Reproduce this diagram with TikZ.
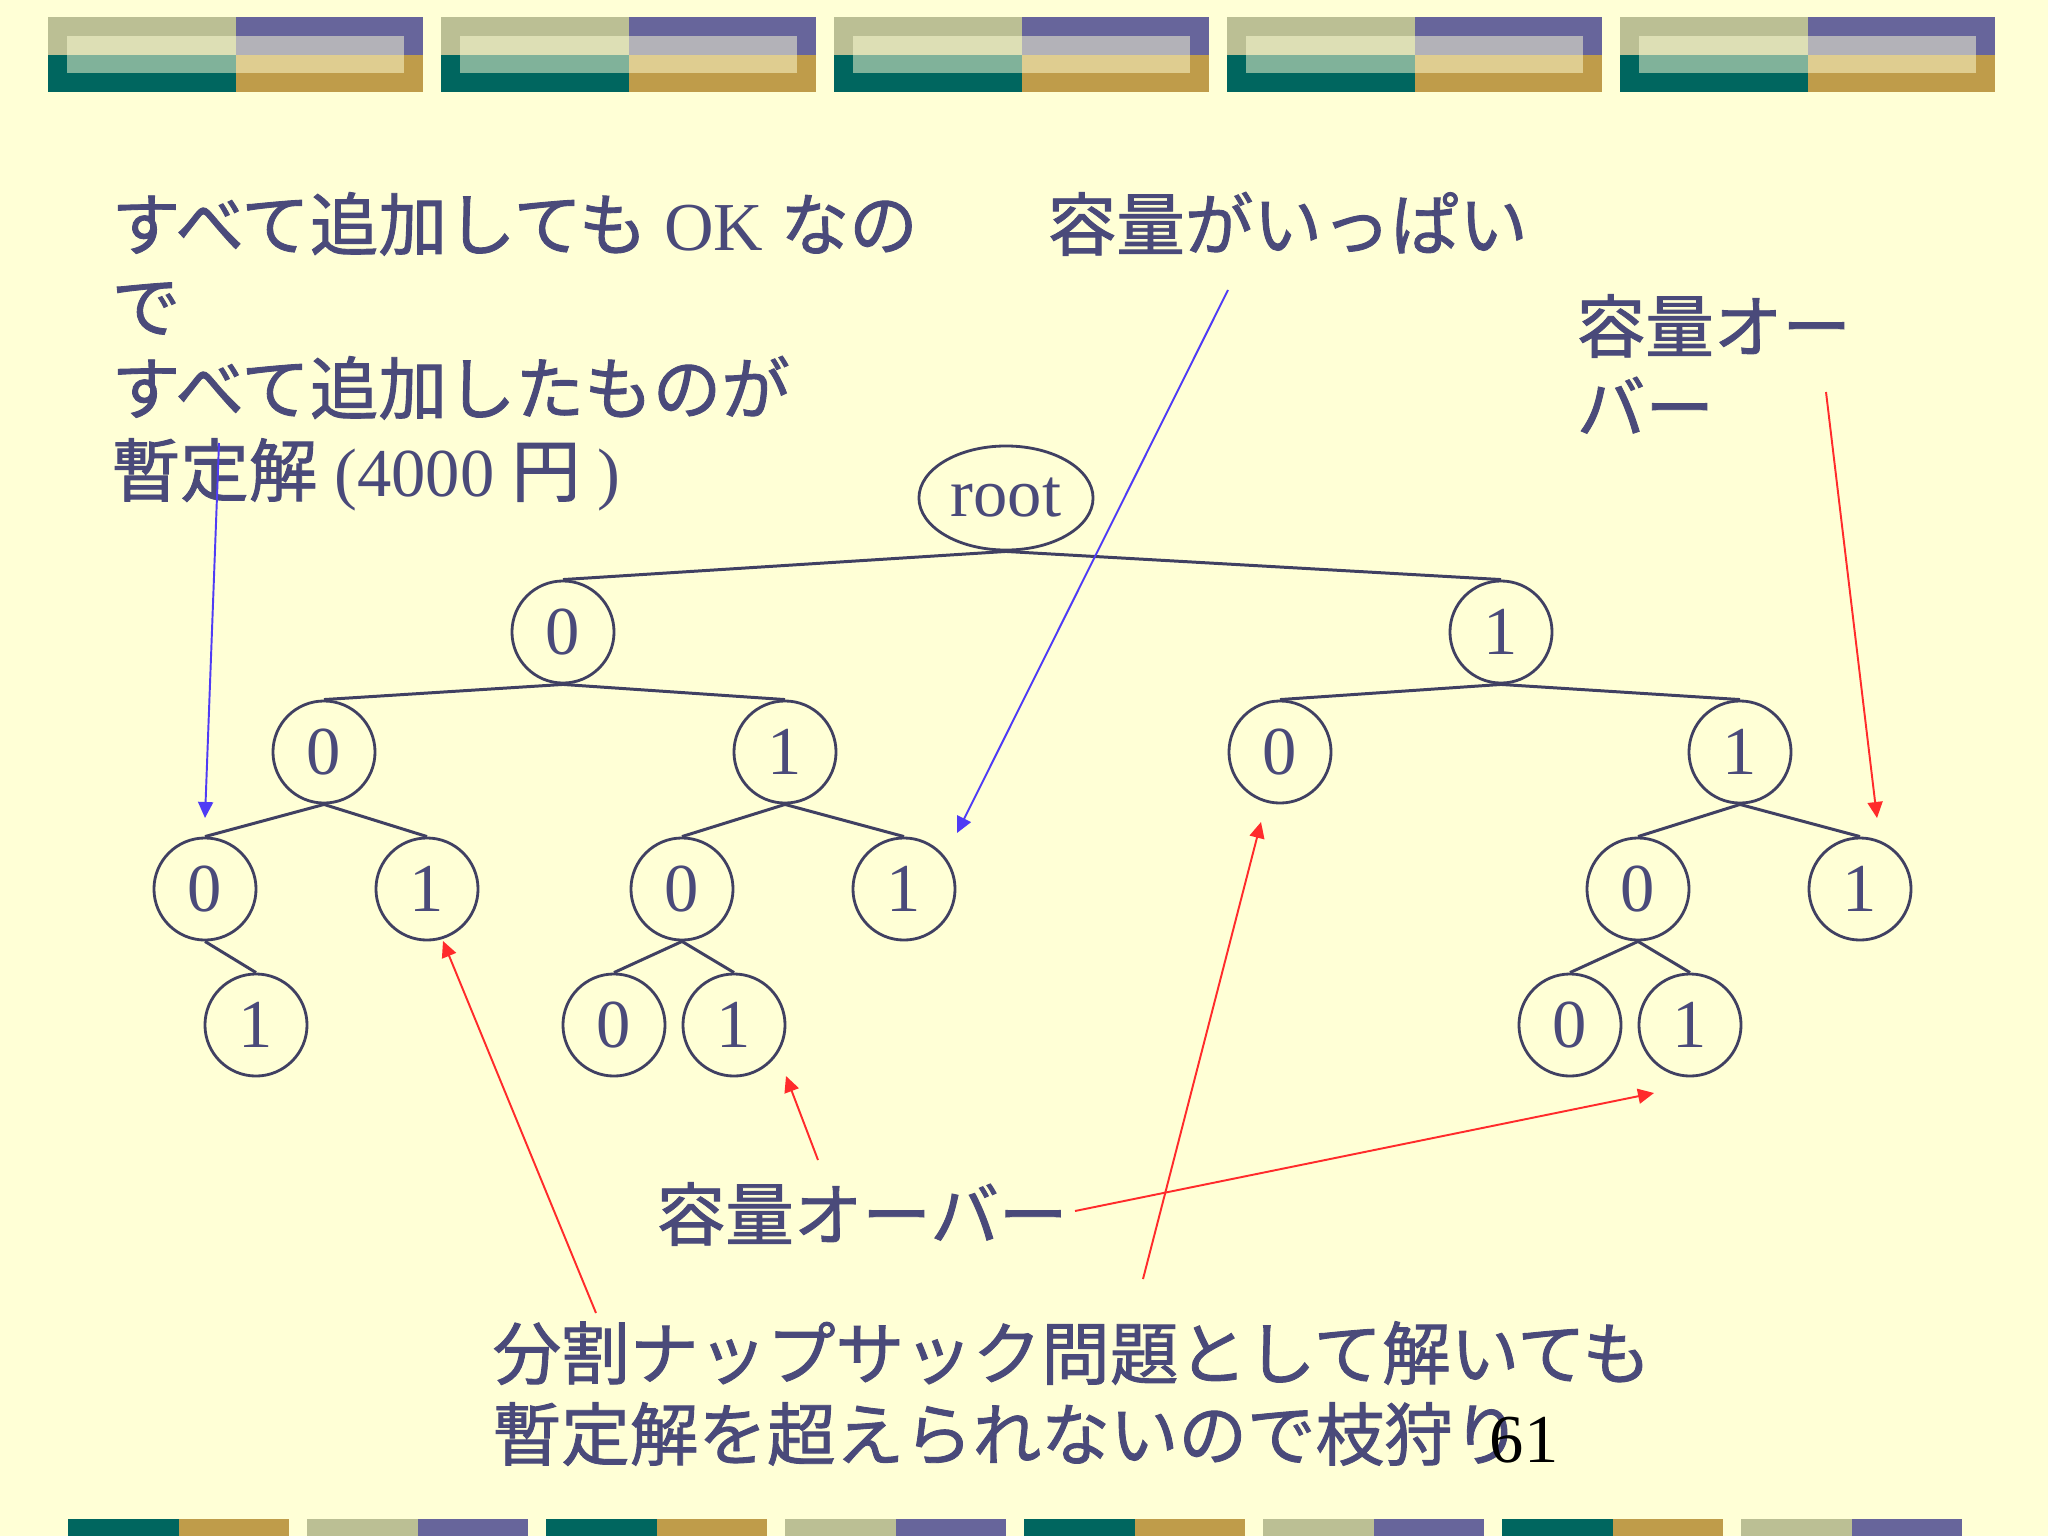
\documentclass[tikz,border=0pt]{standalone}
\usepackage{fontspec}
\setmainfont{Liberation Serif}
\newfontfamily\jp[FakeBold=1.3]{Noto Sans CJK JP}
\usetikzlibrary{shapes.geometric,arrows.meta}
\definecolor{bg}{HTML}{FFFFD6}
\definecolor{olv}{HTML}{BBBF94}
\definecolor{prp}{HTML}{67659B}
\definecolor{tel}{HTML}{00665F}
\definecolor{gld}{HTML}{BF9C4A}
\definecolor{txt}{HTML}{4A4A7A}
\definecolor{edg}{HTML}{404062}
\definecolor{arrblue}{HTML}{4F3BF5}
\definecolor{arrred}{HTML}{FF2B2B}
\tikzset{
  nd/.style={circle,draw=edg,line width=0.8pt,minimum size=1.02cm,inner sep=0pt,
             text=txt,font=\fontsize{19.5}{23}\selectfont},
  rootnd/.style={ellipse,draw=edg,line width=0.8pt,minimum width=1.74cm,minimum height=1.04cm,
             inner sep=0pt,text=txt,font=\fontsize{19.5}{23}\selectfont},
  edge/.style={draw=edg,line width=0.85pt},
  lbl/.style={anchor=base west,inner sep=0pt,text=txt,font=\fontsize{19.5}{23}\selectfont},
  bluearr/.style={draw=arrblue,line width=0.55pt,-{Triangle[length=0.16cm,width=0.15cm]}},
  redarr/.style={draw=arrred,line width=0.55pt,-{Triangle[length=0.16cm,width=0.15cm]}},
}
\begin{document}
\begin{tikzpicture}[x=0.01cm,y=-0.01cm]
\fill[bg] (0,0) rectangle (2048,1536);
\useasboundingbox (0,0) rectangle (2048,1536);
% top band
\foreach \i in {0,...,4}{
  \pgfmathsetmacro\bx{48+393*\i}
  \begin{scope}[shift={(\bx,17)}]
    \fill[olv] (0,0) rectangle (187.5,37.5);
    \fill[prp] (187.5,0) rectangle (375,37.5);
    \fill[tel] (0,37.5) rectangle (187.5,75);
    \fill[gld] (187.5,37.5) rectangle (375,75);
    \fill[bg,fill opacity=0.5] (19,19) rectangle (356,56);
  \end{scope}
}
% bottom band
\foreach \i in {0,...,7}{
  \pgfmathsetmacro\bx{68+239*\i}
  \begin{scope}[shift={(\bx,1519)}]
    \ifodd\i
      \fill[olv] (0,0) rectangle (110.5,20);
      \fill[prp] (110.5,0) rectangle (221,20);
    \else
      \fill[tel] (0,0) rectangle (110.5,20);
      \fill[gld] (110.5,0) rectangle (221,20);
    \fi
  \end{scope}
}
% tree nodes
\node[rootnd] (r) at (1006,498) {root};
\node[nd] (a) at (563,632) {0};
\node[nd] (b) at (1501,632) {1};
\node[nd] (aa) at (324,752) {0};
\node[nd] (ab) at (785,752) {1};
\node[nd] (ba) at (1280,752) {0};
\node[nd] (bb) at (1740,752) {1};
\node[nd] (aaa) at (205,889) {0};
\node[nd] (aab) at (427,889) {1};
\node[nd] (aba) at (682,889) {0};
\node[nd] (abb) at (904,889) {1};
\node[nd] (bba) at (1638,889) {0};
\node[nd] (bbb) at (1860,889) {1};
\node[nd] (aaab) at (256,1025) {1};
\node[nd] (abaa) at (614,1025) {0};
\node[nd] (abab) at (734,1025) {1};
\node[nd] (bbaa) at (1570,1025) {0};
\node[nd] (bbab) at (1690,1025) {1};
% tree edges
\draw[edge] (r.south) -- (a.north);
\draw[edge] (r.south) -- (b.north);
\draw[edge] (a.south) -- (aa.north);
\draw[edge] (a.south) -- (ab.north);
\draw[edge] (b.south) -- (ba.north);
\draw[edge] (b.south) -- (bb.north);
\draw[edge] (aa.south) -- (aaa.north);
\draw[edge] (aa.south) -- (aab.north);
\draw[edge] (ab.south) -- (aba.north);
\draw[edge] (ab.south) -- (abb.north);
\draw[edge] (bb.south) -- (bba.north);
\draw[edge] (bb.south) -- (bbb.north);
\draw[edge] (aaa.south) -- (aaab.north);
\draw[edge] (aba.south) -- (abaa.north);
\draw[edge] (aba.south) -- (abab.north);
\draw[edge] (bba.south) -- (bbaa.north);
\draw[edge] (bba.south) -- (bbab.north);
% labels
\node[lbl] (t1) at (111,250) {{\jp すべて追加しても} OK {\jp なの}};
\node[lbl] (t2) at (111,332) {\jp で};
\node[lbl] (t3) at (111,414) {\jp すべて追加したものが};
\node[lbl] (t4) at (111,496) {{\jp 暫定解} (4000 {\jp 円} )};
\node[lbl] (t5) at (1047,250) {\jp 容量がいっぱい};
\node[lbl] (t6) at (1576,352) {\jp 容量オー};
\node[lbl] (t7) at (1576,433) {\jp バー};
\node[lbl] (t8) at (656,1240) {\jp 容量オーバー};
\node[lbl] (t9) at (492,1379) {\jp 分割ナップサック問題として解いても};
\node[lbl] (t10) at (492,1460) {\jp 暫定解を超えられないので枝狩り};
\node[lbl,text=black] (pg) at (1489,1462) {61};
% arrows
\coordinate (s1) at (219,443);   \coordinate (e1) at (205,818);
\coordinate (s2) at (1228,290);  \coordinate (e2) at (957,833);
\coordinate (s3) at (1826,392);  \coordinate (e3) at (1877,818);
\coordinate (s4) at (818,1160);  \coordinate (e4) at (786,1076);
\coordinate (s5) at (1075,1211); \coordinate (e5) at (1654,1093);
\coordinate (s6) at (596,1313);  \coordinate (e6) at (443,941);
\coordinate (s7) at (1143,1279); \coordinate (e7) at (1261,822);
\draw[bluearr] (s1) -- (e1);
\draw[bluearr] (s2) -- (e2);
\draw[redarr] (s3) -- (e3);
\draw[redarr] (s4) -- (e4);
\draw[redarr] (s5) -- (e5);
\draw[redarr] (s6) -- (e6);
\draw[redarr] (s7) -- (e7);
\end{tikzpicture}
\end{document}
